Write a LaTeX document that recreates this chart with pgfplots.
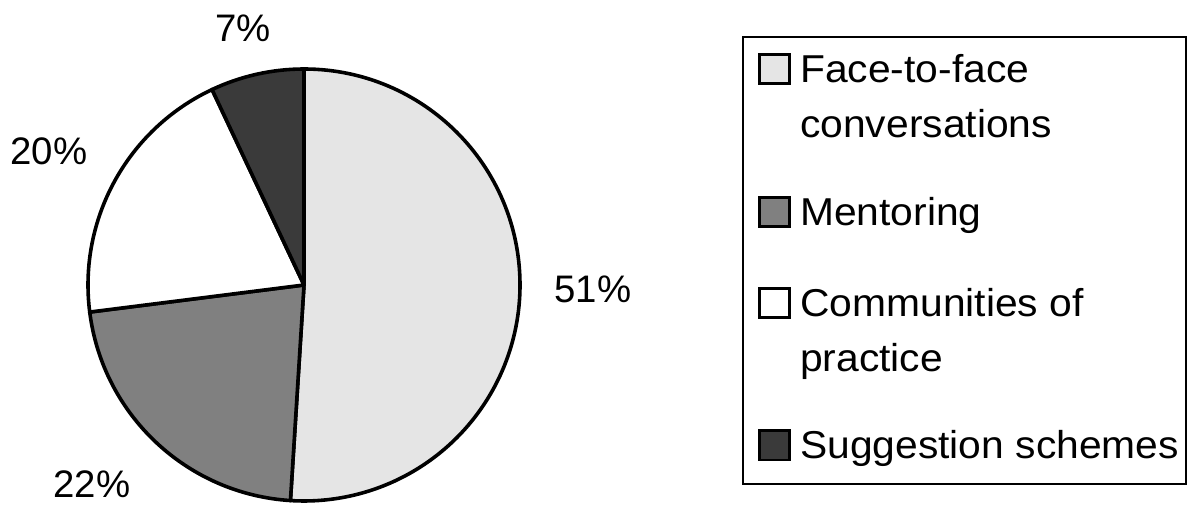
\documentclass[border=0pt]{standalone}
\usepackage{fontspec}
\setmainfont{Liberation Sans}
\newfontfamily\legendfont{Liberation Sans}[FakeStretch=1.05]
\usepackage{pgfplots}
\usepackage{pgfplotstable}
\pgfplotsset{compat=1.18}

\definecolor{faceColor}{RGB}{229,229,229}
\definecolor{mentorColor}{RGB}{128,128,128}
\definecolor{commColor}{RGB}{255,255,255}
\definecolor{suggColor}{RGB}{58,58,58}

% share in percent, label centre (axis units), slice colour
\pgfplotstableread[col sep=comma]{
pct,lx,ly,color
51,593,215,faceColor
22,92,20,mentorColor
20,49,353,commColor
7,243,476,suggColor
}\pietable

% pie centre and radius in axis units (1 unit = 1bp)
\newcommand\pieCX{304}
\newcommand\pieCY{219}
\newcommand\pieR{216}

\begin{document}
\begin{tikzpicture}
% slice angles, running clockwise from 12 o'clock
\def\angleacc{90}%
\pgfplotsforeachungrouped \i in {0,...,3}{%
  \pgfplotstablegetelem{\i}{pct}\of\pietable
  \let\curpct\pgfplotsretval
  \pgfplotstablegetelem{\i}{lx}\of\pietable
  \expandafter\xdef\csname pieLX\i\endcsname{\pgfplotsretval}%
  \pgfplotstablegetelem{\i}{ly}\of\pietable
  \expandafter\xdef\csname pieLY\i\endcsname{\pgfplotsretval}%
  \pgfplotstablegetelem{\i}{color}\of\pietable
  \expandafter\xdef\csname pieColor\i\endcsname{\pgfplotsretval}%
  \pgfmathsetmacro\endang{\angleacc - 3.6*\curpct}%
  \expandafter\xdef\csname pieStart\i\endcsname{\angleacc}%
  \expandafter\xdef\csname pieEnd\i\endcsname{\endang}%
  \pgfmathtruncatemacro\pctint{\curpct}%
  \expandafter\xdef\csname piePct\i\endcsname{\pctint}%
  \xdef\angleacc{\endang}%
}%
\begin{axis}[
  width=1197bp, height=504bp, scale only axis,
  xmin=0, xmax=1197, ymin=0, ymax=504,
  hide axis, clip=false,
]
\path (axis cs:0,0) rectangle (axis cs:1197,504);

% slices
\pgfplotsinvokeforeach{0,...,3}{%
  \edef\slice{\noexpand\filldraw[fill=\csname pieColor#1\endcsname, draw=black,
      line width=3.6pt, line join=round]
    (axis cs:\pieCX,\pieCY) --
    ([shift={(\csname pieStart#1\endcsname:\pieR bp)}]axis cs:\pieCX,\pieCY)
    arc[start angle=\csname pieStart#1\endcsname,
        end angle=\csname pieEnd#1\endcsname, radius=\pieR bp] -- cycle;}%
  \slice
}

% percentage labels
\pgfplotsinvokeforeach{0,...,3}{%
  \edef\lbl{\noexpand\node[inner sep=0pt, text height=27.7bp, text depth=0pt,
      anchor=center, font=\noexpand\fontsize{38.5}{46}\noexpand\selectfont]
    at (axis cs:\csname pieLX#1\endcsname,\csname pieLY#1\endcsname)
    {\csname piePct#1\endcsname\noexpand\%};}%
  \lbl
}

% legend
\draw[line width=1.8pt] (axis cs:743,20) rectangle (axis cs:1186,467);
\tikzset{legtext/.style={anchor=base west, inner sep=0pt,
    font=\legendfont\fontsize{39}{46}\selectfont}}
\filldraw[fill=faceColor, draw=black, line width=3pt]
  (axis cs:759.5,420) rectangle (axis cs:789.5,449.5);
\node[legtext] at (axis cs:800,421) {Face-to-face};
\node[legtext] at (axis cs:800,366) {conversations};
\filldraw[fill=mentorColor, draw=black, line width=3pt]
  (axis cs:759.5,277) rectangle (axis cs:789.5,306.5);
\node[legtext] at (axis cs:800,278) {Mentoring};
\filldraw[fill=commColor, draw=black, line width=3pt]
  (axis cs:759.5,186) rectangle (axis cs:789.5,215.5);
\node[legtext] at (axis cs:800,187) {Communities of};
\node[legtext] at (axis cs:800,132) {practice};
\filldraw[fill=suggColor, draw=black, line width=3pt]
  (axis cs:759.5,44) rectangle (axis cs:789.5,73.5);
\node[legtext] at (axis cs:800,45) {Suggestion schemes};
\end{axis}
\end{tikzpicture}
\end{document}
